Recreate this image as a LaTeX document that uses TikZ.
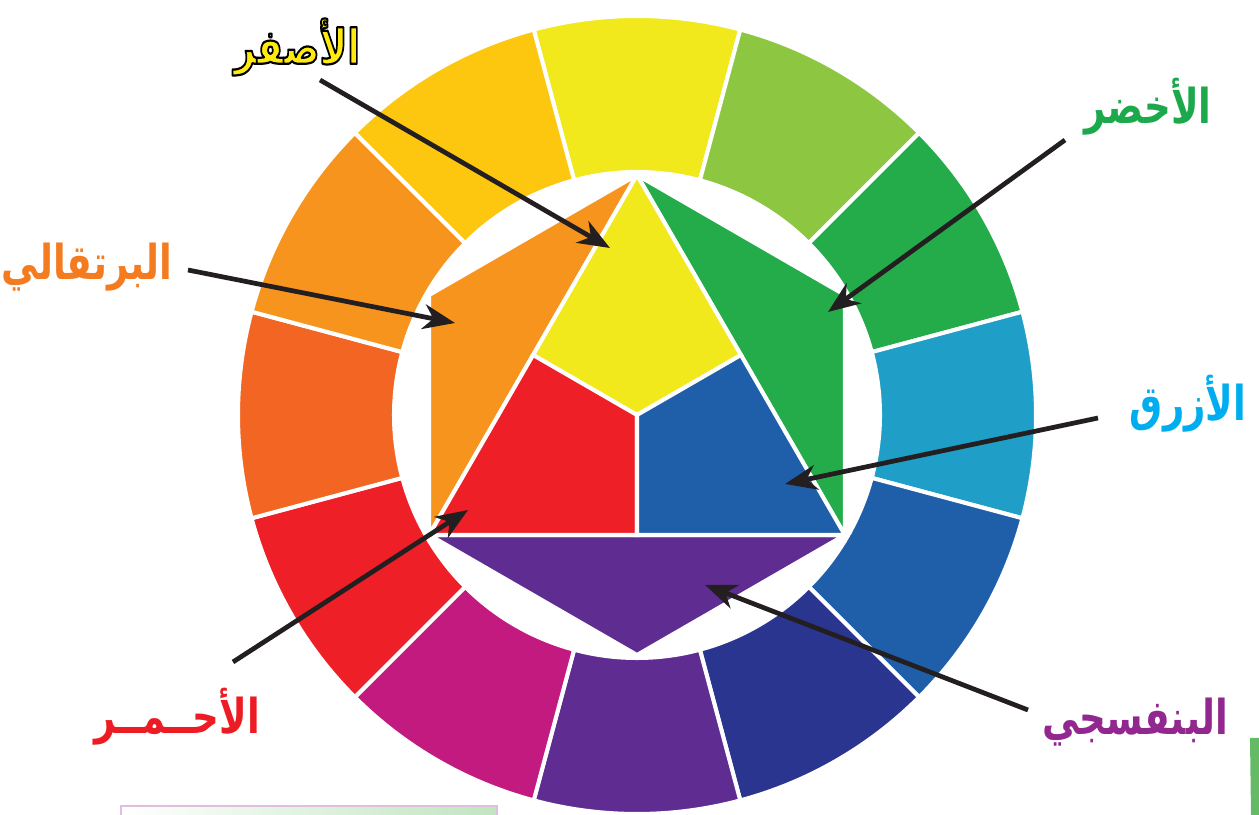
\documentclass[tikz,border=0pt]{standalone}
\usepackage{fontspec}
\usepackage{xcolor}
\usepackage{graphicx}
\TeXXeTstate=1
\newfontfamily\arabicfont[Script=Arabic]{DejaVu Sans}
\newcommand\arlab[1]{\scalebox{0.88}[1.14]{\beginR #1\endR}}
\newcommand\outlinedlab[1]{\special{pdf:literal direct 2 Tr 1.1 w 0 0 0 RG 1 j}\arlab{#1}\special{pdf:literal direct 0 Tr}}
\definecolor{wYel}{HTML}{F1E91B}
\definecolor{wYelGrn}{HTML}{8DC641}
\definecolor{wGrn}{HTML}{24AC4B}
\definecolor{wBluGrn}{HTML}{1F9FC8}
\definecolor{wBlu}{HTML}{1F5FAA}
\definecolor{wBluVio}{HTML}{2A3590}
\definecolor{wVio}{HTML}{5F2D91}
\definecolor{wRedVio}{HTML}{C21A7F}
\definecolor{wRed}{HTML}{EE1F26}
\definecolor{wRedOrg}{HTML}{F26522}
\definecolor{wOrg}{HTML}{F7941E}
\definecolor{wYelOrg}{HTML}{FDC70F}
\definecolor{labYel}{HTML}{FFEA10}
\definecolor{labGrn}{HTML}{1BA94C}
\definecolor{labOrg}{HTML}{F47B20}
\definecolor{labBlu}{HTML}{00AEEF}
\definecolor{labRed}{HTML}{ED1C24}
\definecolor{labVio}{HTML}{92278F}
\definecolor{arrBlack}{HTML}{231F20}
\usetikzlibrary{arrows.meta,positioning,calc}

\begin{document}
\begin{tikzpicture}[
  x=0.02cm,y=0.02cm,
  seg/.style={draw=white,line width=2.3pt,line join=miter},
  lab/.style={font=\arabicfont\bfseries\fontsize{24}{28}\selectfont,inner sep=0pt},
  arr/.style={-{Stealth[length=6.4mm,width=5mm,inset=2mm]},line width=2.7pt,draw=arrBlack}
]
\useasboundingbox (0,0) rectangle (1259,815);
% outer ring of twelve hues
\begin{scope}[shift={(637,400)}]
\foreach \c [count=\i from 0] in {wYel,wYelGrn,wGrn,wBluGrn,wBlu,wBluVio,wVio,wRedVio,wRed,wRedOrg,wOrg,wYelOrg}{
  \pgfmathsetmacro\a{90-30*\i}
  \filldraw[seg,fill=\c] (\a+15:399) arc[start angle=\a+15,end angle=\a-15,radius=399]
    -- (\a-15:243) arc[start angle=\a-15,end angle=\a+15,radius=243] -- cycle;
}
% hexagram of primaries and secondaries
\coordinate (p90) at (90:240);
\coordinate (p150) at (150:240);
\coordinate (p210) at (210:240);
\coordinate (p270) at (270:240);
\coordinate (p330) at (330:240);
\coordinate (p30) at (30:240);
\coordinate (ctr) at (0,0);
\coordinate (mL) at ($(p90)!0.5!(p210)$);
\coordinate (mR) at ($(p90)!0.5!(p330)$);
\coordinate (mB) at ($(p210)!0.5!(p330)$);
\filldraw[seg,fill=wOrg] (p90) -- (p150) -- (p210) -- cycle;
\filldraw[seg,fill=wGrn] (p90) -- (p30) -- (p330) -- cycle;
\filldraw[seg,fill=wVio] (p210) -- (p270) -- (p330) -- cycle;
\filldraw[seg,fill=wYel] (p90) -- (mR) -- (ctr) -- (mL) -- cycle;
\filldraw[seg,fill=wRed] (mL) -- (ctr) -- (mB) -- (p210) -- cycle;
\filldraw[seg,fill=wBlu] (ctr) -- (mR) -- (p330) -- (mB) -- cycle;
\end{scope}
% labels
\node[lab,text=labYel] (lYel) at (297,768) {\outlinedlab{الأصفر}};
\node[lab,text=labGrn] (lGrn) at (1148,708) {\arlab{الأخضر}};
\node[lab,text=labOrg] (lOrg) at (87,548) {\arlab{البرتقالي}};
\node[lab,text=labBlu] (lBlu) at (1188,411) {\arlab{الأزرق}};
\node[lab,text=labRed] (lRed) at (177,98) {\arlab{الأحــمــر}};
\node[lab,text=labVio] (lVio) at (1135,93) {\arlab{البنفسجي}};
% arrow ends
\coordinate (sYel) at (320,735);  \coordinate (tYel) at (610,567);
\coordinate (sGrn) at (1065,675); \coordinate (tGrn) at (828,503);
\coordinate (sOrg) at (188,545);  \coordinate (tOrg) at (455,492);
\coordinate (sBlu) at (1098,397); \coordinate (tBlu) at (785,331);
\coordinate (sRed) at (233,153);  \coordinate (tRed) at (468,305);
\coordinate (sVio) at (1028,105); \coordinate (tVio) at (705,230);
\draw[arr] (sYel) -- (tYel); \draw[arr] (sGrn) -- (tGrn);
\draw[arr] (sOrg) -- (tOrg); \draw[arr] (sBlu) -- (tBlu);
\draw[arr] (sRed) -- (tRed); \draw[arr] (sVio) -- (tVio);
% page leftovers at the bottom
\shade[left color=white,right color=green!60!black!25] (121,0) rectangle (497,9);
\draw[draw=violet!25,line width=0.8pt] (121,0) -- (121,9) -- (497,9) -- (497,0);
\fill[green!55!black!60!white] (1250,77) -- (1259,77) -- (1259,0) -- (1251,0) -- cycle;
\end{tikzpicture}
\end{document}
